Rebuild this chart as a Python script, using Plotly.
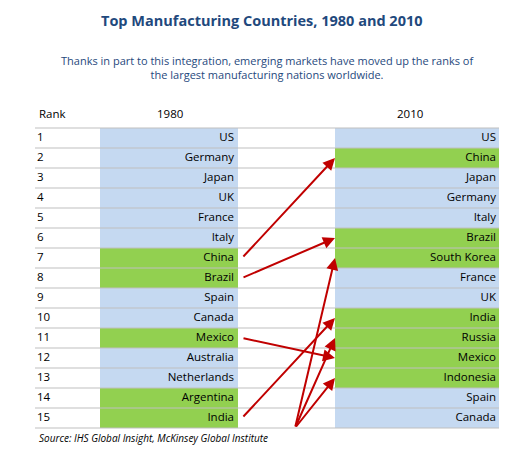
import plotly.graph_objects as go

ranks = list(range(1, 16))
c1980 = ["US","Germany","Japan","UK","France","Italy","China","Brazil","Spain","Canada",
         "Mexico","Australia","Netherlands","Argentina","India"]
c2010 = ["US","China","Japan","Germany","Italy","Brazil","South Korea","France","UK","India",
         "Russia","Mexico","Indonesia","Spain","Canada"]
emerging = {"China","Brazil","Mexico","Argentina","India","South Korea","Russia","Indonesia"}
# moves: (from 1980 rank or None for new entrants, to 2010 rank)
moves = [(7, 2), (8, 6), (11, 12), (15, 10), (None, 7), (None, 11), (None, 13)]

BLUE, GREEN = "#C5D9F1", "#92D050"
def yc(r): return 118 + 20 * r

fig = go.Figure()
shapes = []
for r, a, b in zip(ranks, c1980, c2010):
    shapes.append(dict(type="rect", x0=100, x1=238, y0=yc(r)-10, y1=yc(r)+10, line_width=0,
                       fillcolor=GREEN if a in emerging else BLUE, layer="below"))
    shapes.append(dict(type="rect", x0=335, x1=499, y0=yc(r)-10, y1=yc(r)+10, line_width=0,
                       fillcolor=GREEN if b in emerging else BLUE, layer="below"))
for k in range(16):
    shapes.append(dict(type="line", x0=35, x1=499, y0=128+20*k, y1=128+20*k,
                       line=dict(color="#BFBFBF", width=1)))

fig.add_trace(go.Scatter(x=[37]*15, y=[yc(r) for r in ranks], text=[str(r) for r in ranks],
                         mode="text", textposition="middle right", textfont=dict(size=11.5, color="black")))
fig.add_trace(go.Scatter(x=[234]*15, y=[yc(r) for r in ranks], text=c1980,
                         mode="text", textposition="middle left", textfont=dict(size=11.5, color="black")))
fig.add_trace(go.Scatter(x=[496]*15, y=[yc(r) for r in ranks], text=c2010,
                         mode="text", textposition="middle left", textfont=dict(size=11.5, color="black")))

ann = [
    dict(x=262, y=20, text="<b>Top Manufacturing Countries, 1980 and 2010</b>", font=dict(size=14.5, color="#1F497D")),
    dict(x=267, y=67, text="Thanks in part to this integration, emerging markets have moved up the ranks of<br>the largest manufacturing nations worldwide.",
         font=dict(size=11, color="#1F497D")),
    dict(x=37, y=113, text="Rank", xanchor="left"),
    dict(x=170, y=113, text="1980"),
    dict(x=410, y=113, text="2010"),
    dict(x=37, y=438, text="<i>Source: IHS Global Insight, McKinsey Global Institute</i>", xanchor="left",
         font=dict(size=10, color="black")),
]
for a in ann:
    a.setdefault("font", dict(size=11.5, color="black"))
    a.update(showarrow=False, xref="x", yref="y")
    if "xanchor" not in a: a["xanchor"] = "center"
for f, t in moves:
    if f is None:
        x0, y0 = 295, 428
    else:
        x0, y0 = 242, yc(f)
    ann.append(dict(x=335, y=yc(t), ax=x0, ay=y0, axref="x", ayref="y", xref="x", yref="y",
                    text="", showarrow=True, arrowhead=2, arrowsize=1.2, arrowwidth=2,
                    arrowcolor="#C00000"))

fig.update_layout(width=525, height=459, margin=dict(l=0, r=0, t=0, b=0),
                  plot_bgcolor="white", paper_bgcolor="white", showlegend=False,
                  font=dict(family="Open Sans"),
                  xaxis=dict(range=[8, 533], visible=False, fixedrange=True),
                  yaxis=dict(range=[467, 8], visible=False, fixedrange=True),
                  shapes=shapes, annotations=ann)
fig.write_html("out.html")
